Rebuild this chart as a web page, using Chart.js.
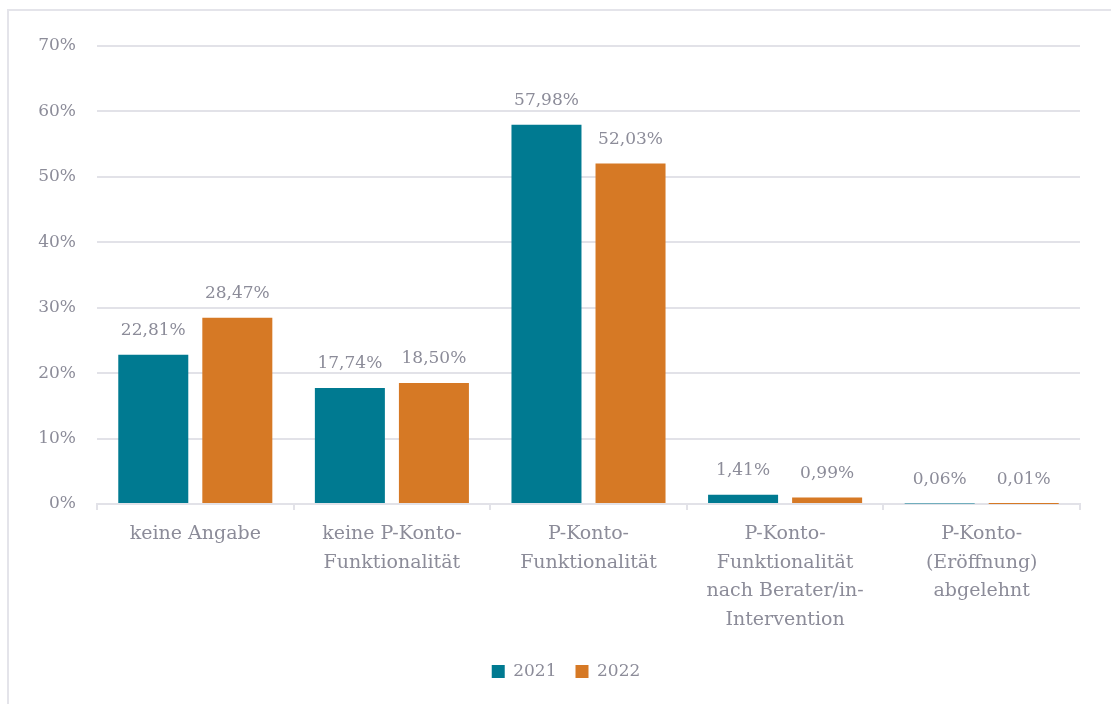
<!DOCTYPE html>
<html>
<head>
<meta charset="utf-8">
<script src="https://cdn.jsdelivr.net/npm/chart.js@4/dist/chart.umd.min.js"></script>
<style>
  html, body { margin: 0; padding: 0; background: #fff; }
  #frame { position: absolute; left: 7px; top: 9px; width: 1200px; height: 800px;
           border: 2px solid #e4e4ea; box-sizing: border-box; }
  #wrap { position: absolute; left: 0; top: 0; width: 1111px; height: 704px; }
</style>
</head>
<body>
<div id="frame"></div>
<div id="wrap"><canvas id="chart" width="1111" height="704"></canvas></div>
<script>
  /* ── Data ── */
  var categories = [
    "keine Angabe",
    ["keine P-Konto-", "Funktionalität"],
    ["P-Konto-", "Funktionalität"],
    ["P-Konto-", "Funktionalität", "nach Berater/in-", "Intervention"],
    ["P-Konto-", "(Eröffnung)", "abgelehnt"]
  ];
  var values2021 = [22.81, 17.74, 57.98, 1.41, 0.06];
  var values2022 = [28.47, 18.50, 52.03, 0.99, 0.01];
  var seriesLabels = ["2021", "2022"];

  var BLUE = "#007a91";
  var ORANGE = "#d67925";
  var TEXT = "#8c8c99";
  var GRID = "#e2e2e8";
  var FONT = "'DejaVu Serif', serif";

  function pct(v) {
    return v.toFixed(2).replace(".", ",") + "%";
  }

  /* ── Value labels above bars ── */
  var valueLabels = {
    id: "valueLabels",
    beforeDraw: function (chart) {
      // y tick labels sit partly in the left padding; don't clip them
      chart.scales.y.left = 0;
    },
    afterDatasetsDraw: function (chart) {
      var ctx = chart.ctx;
      ctx.save();
      ctx.font = "17px " + FONT;
      ctx.fillStyle = TEXT;
      ctx.textAlign = "center";
      ctx.textBaseline = "middle";
      chart.data.datasets.forEach(function (ds, i) {
        chart.getDatasetMeta(i).data.forEach(function (bar, j) {
          ctx.fillText(pct(ds.data[j]), bar.x, bar.y - 24);
        });
      });
      ctx.restore();
    }
  };

  new Chart(document.getElementById("chart").getContext("2d"), {
    type: "bar",
    data: {
      labels: categories,
      datasets: [
        { label: seriesLabels[0], data: values2021, backgroundColor: BLUE },
        { label: seriesLabels[1], data: values2022, backgroundColor: ORANGE }
      ]
    },
    options: {
      responsive: false,
      animation: false,
      categoryPercentage: 0.855,
      barPercentage: 0.833,
      layout: { padding: { left: 52, right: 31, top: 46, bottom: 14 } },
      plugins: {
        tooltip: { enabled: false },
        legend: {
          position: "bottom",
          labels: {
            boxWidth: 13,
            boxHeight: 13,
            padding: 19,
            color: TEXT,
            font: { family: FONT, size: 17 }
          }
        }
      },
      scales: {
        x: {
          grid: { display: true, drawOnChartArea: false, color: GRID, tickLength: 6, lineWidth: 2 },
          border: { color: GRID, width: 2 },
          ticks: {
            color: TEXT,
            padding: 10,
            maxRotation: 0,
            autoSkip: false,
            font: { family: FONT, size: 19, lineHeight: 1.5 }
          }
        },
        y: {
          min: 0,
          max: 70,
          afterFit: function (scale) { scale.width = 45; },
          grid: { color: GRID, lineWidth: 2, drawTicks: false },
          border: { display: false },
          ticks: {
            stepSize: 10,
            padding: 21,
            color: TEXT,
            font: { family: FONT, size: 17 },
            callback: function (v) { return v + "%"; }
          }
        }
      }
    },
    plugins: [valueLabels]
  });
</script>
</body>
</html>
